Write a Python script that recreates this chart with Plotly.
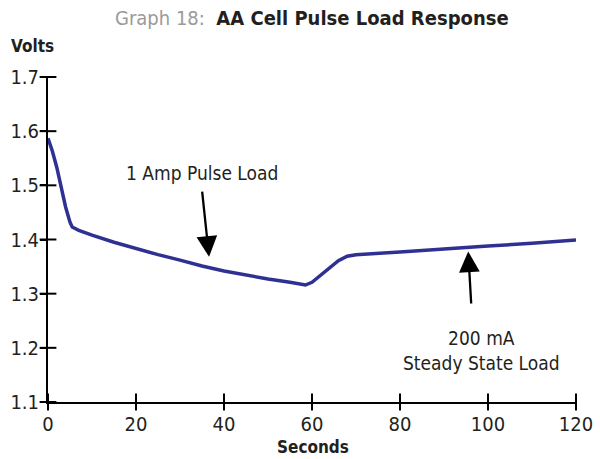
import plotly.graph_objects as go

# Data
seconds = [0, 1, 2, 3, 4, 5, 5.5, 7, 10, 15, 20, 25, 30, 35, 40, 45, 50, 55, 57,
           58.5, 60, 62, 64, 66, 68, 70, 80, 90, 100, 110, 120]
volts = [1.587, 1.563, 1.533, 1.497, 1.46, 1.432, 1.423, 1.417, 1.408, 1.395,
         1.383, 1.372, 1.362, 1.351, 1.342, 1.334, 1.327, 1.321, 1.318,
         1.316, 1.321, 1.334, 1.348, 1.361, 1.369, 1.372, 1.377, 1.383,
         1.388, 1.393, 1.399]

x_ticks = [0, 20, 40, 60, 80, 100, 120]
y_ticks = [1.1, 1.2, 1.3, 1.4, 1.5, 1.6, 1.7]
y_tick_labels = ["1.1", "1.2", "1.3", "1.4", "1.5", "1.6", "1.7"]

FONT = "DejaVu Sans Condensed, Liberation Sans Narrow, Arial Narrow, sans-serif"
TXT = "#231f20"
X_MIN, X_MAX, Y_MIN, Y_MAX = 0, 120, 1.1, 1.7

fig = go.Figure()
fig.add_trace(go.Scatter(x=seconds, y=volts, mode="lines",
                         line=dict(color="#2e3192", width=3.5),
                         showlegend=False, hoverinfo="skip"))
# crossing tick marks centred on the axis lines
fig.add_trace(go.Scatter(x=x_ticks, y=[Y_MIN] * len(x_ticks), mode="markers",
                         marker=dict(symbol="line-ns", size=12,
                                     line=dict(width=2, color="#000")),
                         cliponaxis=False, showlegend=False, hoverinfo="skip"))
fig.add_trace(go.Scatter(x=[X_MIN] * len(y_ticks), y=y_ticks, mode="markers",
                         marker=dict(symbol="line-ew", size=12,
                                     line=dict(width=2, color="#000")),
                         cliponaxis=False, showlegend=False, hoverinfo="skip"))

axis_common = dict(showgrid=False, zeroline=False, showline=True,
                   linecolor="#000", linewidth=2, ticks="outside",
                   ticklen=6, tickwidth=2, tickcolor="#000", automargin=False,
                   tickfont=dict(family=FONT, size=20, color=TXT))

fig.update_layout(
    width=600, height=459,
    margin=dict(l=48, r=24, t=77, b=57),
    paper_bgcolor="white", plot_bgcolor="white",
    xaxis=dict(range=[X_MIN, X_MAX], tickvals=x_ticks, ticklabelstandoff=-3,
               **axis_common),
    yaxis=dict(range=[Y_MIN, Y_MAX], tickvals=y_ticks, ticktext=y_tick_labels,
               ticklabelstandoff=-3, **axis_common),
)

pl, pr, pt, pb = 48, 576, 77, 402


def px_x(p):
    return (p - pl) / (pr - pl)


def px_y(p):
    return (pb - p) / (pb - pt)


annotations = [
    dict(text="<span style='color:#9a9a9a'>Graph 18:</span>&nbsp;&nbsp;<b>AA Cell Pulse Load Response</b>",
         x=px_x(312), y=px_y(18), xref="paper", yref="paper", showarrow=False,
         font=dict(family=FONT, size=20, color=TXT)),
    dict(text="<b>Volts</b>", x=px_x(32), y=px_y(46), xref="paper", yref="paper",
         showarrow=False, font=dict(family=FONT, size=17, color=TXT)),
    dict(text="<b>Seconds</b>", x=px_x(313), y=px_y(447), xref="paper", yref="paper",
         showarrow=False, font=dict(family=FONT, size=17, color=TXT)),
    dict(text="1 Amp Pulse Load", x=34.9, y=1.522, xref="x", yref="y",
         showarrow=False, font=dict(family=FONT, size=19, color=TXT)),
    dict(text="200 mA<br>Steady State Load", x=98.5, y=1.196, xref="x", yref="y",
         showarrow=False, font=dict(family=FONT, size=19, color=TXT)),
]
for a in annotations:
    a["xanchor"] = "center"
    a["yanchor"] = "middle"

annotations += [
    dict(x=36.6, y=1.368, ax=35.0, ay=1.491, xref="x", yref="y",
         axref="x", ayref="y", showarrow=True, arrowhead=2, arrowsize=1.8,
         arrowwidth=2.3, arrowcolor="#000", text=""),
    dict(x=95.5, y=1.378, ax=96.2, ay=1.279, xref="x", yref="y",
         axref="x", ayref="y", showarrow=True, arrowhead=2, arrowsize=1.8,
         arrowwidth=2.3, arrowcolor="#000", text=""),
]
fig.update_layout(annotations=annotations)

fig.write_html("out.html", config={"displayModeBar": False},
               post_script="document.body.style.margin='0';")
